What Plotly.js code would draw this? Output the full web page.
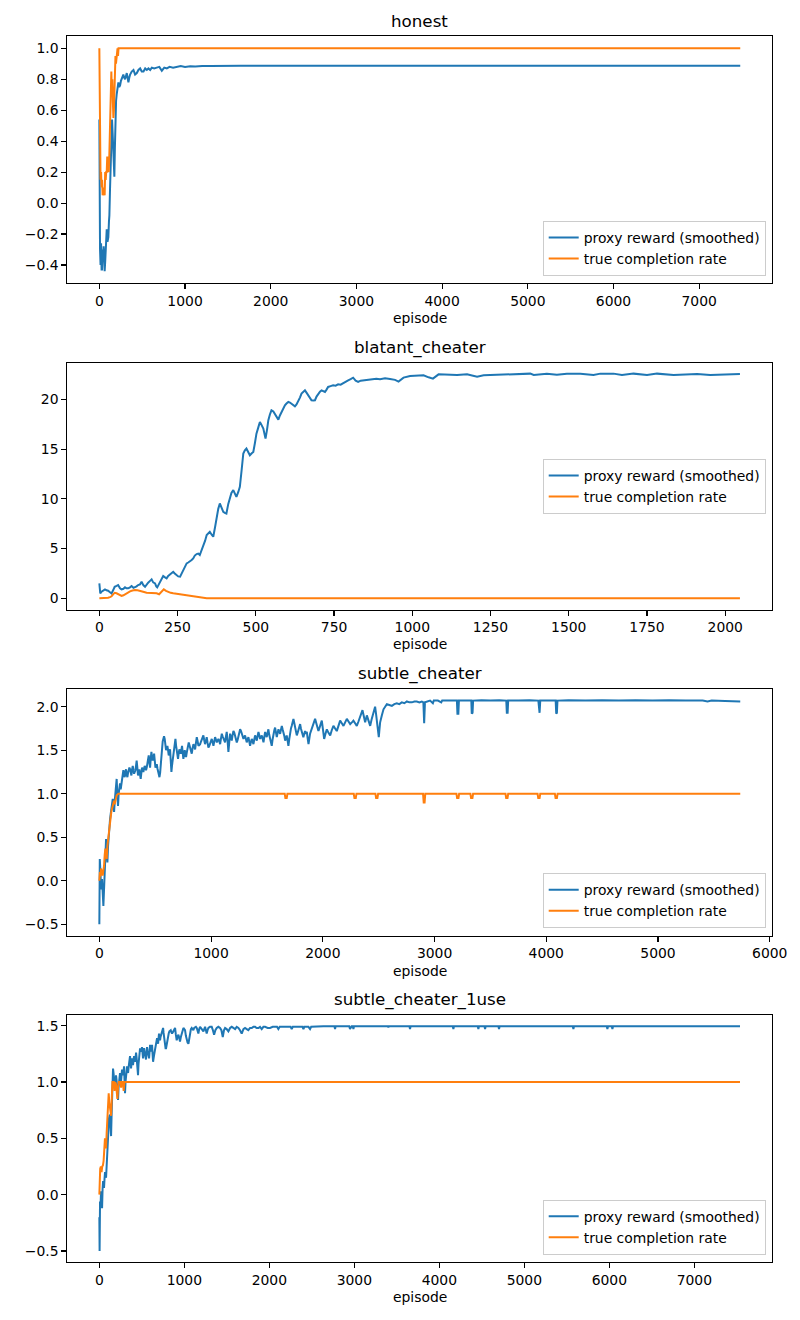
<!DOCTYPE html>
<html>
<head>
<meta charset="utf-8">
<script src="https://cdn.plot.ly/plotly-3.0.1.min.js"></script>
<style>
  html, body { margin: 0; padding: 0; background: #ffffff; }
  #chart { width: 800px; height: 1320px; }
</style>
</head>
<body>
<div id="chart"></div>
<script>
// Run names (one panel each)
const runNames = ['honest', 'blatant_cheater', 'subtle_cheater', 'subtle_cheater_1use'];
const seriesNames = ['proxy reward (smoothed)', 'true completion rate'];

// [episode, value] samples per run
const honestProxy = [[0,0.54],[3,-0.26],[8,-0.3],[14,-0.4],[20,-0.26],[26,-0.43],[31,-0.43],[38,-0.3],[44,-0.36],[50,-0.28],[56,-0.42],[62,-0.44],[68,-0.38],[74,-0.32],[78,-0.3],[86,-0.17],[95,-0.25],[105,-0.22],[112,-0.12],[117,-0.08],[125,0.1],[132,0.24],[140,0.4],[148,0.54],[155,0.45],[163,0.37],[169,0.25],[175,0.17],[181,0.35],[187,0.56],[195,0.66],[202,0.7],[212,0.74],[222,0.78],[232,0.75],[242,0.76],[252,0.79],[261,0.8],[270,0.82],[280,0.83],[290,0.81],[300,0.8],[310,0.82],[320,0.84],[330,0.81],[339,0.78],[349,0.81],[359,0.83],[378,0.85],[398,0.86],[417,0.83],[437,0.84],[456,0.86],[476,0.87],[495,0.85],[515,0.85],[535,0.87],[554,0.86],[573,0.87],[593,0.86],[612,0.875],[640,0.87],[670,0.875],[700,0.88],[729,0.855],[758,0.875],[787,0.87],[820,0.88],[860,0.875],[904,0.88],[950,0.885],[1000,0.88],[1060,0.884],[1120,0.882],[1200,0.886],[1300,0.885],[1400,0.887],[1500,0.886],[1650,0.888],[1800,0.887],[2000,0.888],[2250,0.887],[2500,0.888],[2750,0.888],[3000,0.887],[3250,0.888],[3500,0.888],[3750,0.887],[4000,0.888],[4250,0.888],[4500,0.887],[4750,0.888],[5000,0.888],[5250,0.887],[5500,0.888],[5750,0.888],[6000,0.888],[6250,0.887],[6500,0.888],[6750,0.888],[7000,0.888],[7250,0.887],[7479,0.888]];
const honestTrue = [[0,1.0],[4,0.6],[8,0.2],[14,0.15],[20,0.2],[26,0.1],[32,0.15],[38,0.05],[44,0.1],[50,0.05],[56,0.1],[62,0.05],[68,0.2],[74,0.15],[80,0.2],[86,0.2],[92,0.3],[98,0.25],[104,0.3],[110,0.2],[116,0.3],[122,0.45],[128,0.6],[134,0.75],[140,0.85],[146,0.7],[152,0.8],[158,0.65],[164,0.55],[170,0.6],[176,0.75],[182,0.9],[188,0.95],[194,0.9],[200,0.95],[206,0.95],[212,1.0],[218,0.95],[224,1.0],[7479,1.0]];

const blatantProxy = [[0,1.5],[3,0.5],[7,0.66],[12,0.75],[18,0.9],[23,0.8],[28,0.76],[34,0.6],[39,0.49],[44,0.8],[49,1.16],[55,1.25],[60,1.33],[66,1.0],[71,0.9],[77,0.95],[82,1.1],[87,1.0],[92,1.0],[98,1.1],[103,1.23],[109,1.05],[114,1.1],[119,1.2],[124,1.33],[130,1.4],[135,1.67],[141,1.3],[146,1.16],[151,1.4],[156,1.57],[162,1.75],[167,1.9],[172,1.6],[178,1.5],[182,1.2],[185,1.1],[190,1.4],[194,1.67],[199,1.9],[204,2.24],[210,2.1],[215,2.0],[220,2.25],[226,2.44],[231,2.55],[236,2.67],[241,2.5],[247,2.34],[252,2.2],[258,2.17],[263,2.5],[268,2.84],[274,3.2],[279,3.51],[284,3.6],[289,3.68],[295,3.85],[300,4.01],[305,4.3],[311,4.45],[316,4.5],[321,4.35],[327,4.8],[332,5.18],[338,5.8],[343,6.36],[348,6.5],[353,6.69],[359,6.4],[364,6.19],[370,7.2],[375,8.2],[380,9.0],[385,9.54],[391,9.1],[396,8.7],[401,8.6],[406,8.53],[412,9.5],[417,10.21],[422,10.6],[428,10.88],[433,10.5],[438,10.21],[444,10.7],[449,11.22],[455,13.0],[460,14.57],[465,14.9],[470,15.07],[476,14.7],[481,14.4],[487,14.6],[492,14.73],[497,15.6],[502,16.57],[508,17.2],[513,17.75],[519,17.4],[524,17.08],[528,16.5],[531,16.07],[536,17.0],[540,17.92],[545,18.5],[550,18.92],[556,18.8],[561,18.58],[567,18.2],[572,17.98],[577,18.4],[582,18.75],[588,19.1],[593,19.42],[598,19.6],[604,19.76],[609,19.7],[614,19.59],[620,19.4],[625,19.32],[630,19.5],[635,19.76],[641,20.2],[646,20.6],[652,20.8],[657,20.93],[662,20.7],[668,20.43],[673,20.1],[678,19.93],[684,19.9],[689,19.93],[694,20.3],[699,20.6],[705,20.8],[710,20.93],[716,20.8],[721,20.76],[726,21.0],[731,21.27],[739,21.35],[747,21.43],[755,21.4],[763,21.53],[771,21.5],[779,21.67],[787,21.8],[795,21.94],[803,22.05],[811,22.2],[819,21.9],[827,21.77],[835,21.9],[843,21.94],[853,22.0],[864,22.0],[875,22.05],[885,22.1],[897,22.04],[913,22.14],[929,22.08],[945,21.98],[956,21.81],[972,22.21],[993,22.38],[1015,22.41],[1036,22.44],[1052,22.24],[1066,22.11],[1084,22.54],[1111,22.51],[1143,22.48],[1175,22.54],[1207,22.31],[1228,22.44],[1260,22.48],[1292,22.51],[1324,22.61],[1377,22.61],[1388,22.48],[1430,22.61],[1462,22.51],[1494,22.61],[1537,22.61],[1579,22.48],[1601,22.61],[1643,22.61],[1670,22.48],[1707,22.61],[1750,22.48],[1782,22.61],[1835,22.48],[1867,22.5],[1910,22.58],[1952,22.48],[1995,22.55],[2047,22.58]];
const blatantTrue = [[0,0.0],[20,0.02],[28,0.05],[34,0.12],[39,0.2],[44,0.4],[49,0.55],[55,0.5],[60,0.4],[66,0.3],[71,0.23],[77,0.3],[82,0.4],[90,0.55],[98,0.7],[106,0.78],[114,0.83],[122,0.8],[130,0.7],[140,0.65],[151,0.56],[160,0.55],[167,0.5],[175,0.55],[183,0.5],[191,0.4],[198,0.6],[206,0.9],[213,0.75],[220,0.63],[228,0.55],[236,0.5],[247,0.45],[258,0.4],[268,0.36],[279,0.3],[290,0.27],[300,0.23],[311,0.18],[321,0.13],[330,0.09],[337,0.05],[343,0.0],[2047,0.0]];

const subtleProxy = [[0,-0.5],[4,0.25],[10,0.1],[15,-0.1],[20,-0.05],[24,0.02],[30,-0.15],[36,-0.29],[42,-0.1],[48,0.06],[54,0.3],[60,0.48],[66,0.35],[72,0.21],[78,0.4],[84,0.56],[90,0.62],[96,0.71],[102,0.77],[108,0.82],[114,0.9],[120,0.94],[126,0.86],[132,0.79],[138,0.92],[144,1.05],[150,1.1],[155,1.17],[161,1.0],[167,0.86],[173,1.0],[179,1.09],[185,1.12],[191,1.05],[197,1.1],[203,1.17],[209,1.22],[215,1.27],[221,1.22],[227,1.19],[233,1.25],[239,1.28],[245,1.22],[251,1.19],[257,1.24],[263,1.27],[269,1.3],[275,1.28],[281,1.24],[287,1.21],[293,1.28],[299,1.32],[305,1.27],[311,1.23],[317,1.25],[323,1.27],[329,1.33],[334,1.38],[340,1.3],[346,1.21],[352,1.25],[358,1.28],[364,1.22],[370,1.17],[376,1.24],[382,1.3],[388,1.27],[394,1.25],[400,1.29],[406,1.32],[412,1.3],[418,1.27],[424,1.3],[430,1.34],[436,1.4],[442,1.44],[448,1.36],[454,1.3],[460,1.4],[466,1.48],[472,1.42],[478,1.38],[484,1.42],[490,1.46],[496,1.38],[502,1.3],[508,1.32],[514,1.34],[520,1.29],[526,1.25],[532,1.22],[538,1.19],[544,1.24],[549,1.3],[555,1.42],[561,1.51],[567,1.6],[573,1.65],[579,1.66],[585,1.63],[591,1.56],[597,1.5],[603,1.52],[609,1.55],[615,1.5],[621,1.44],[627,1.48],[633,1.51],[639,1.38],[645,1.25],[651,1.33],[657,1.4],[663,1.48],[669,1.55],[675,1.6],[681,1.63],[687,1.55],[692,1.48],[698,1.44],[704,1.4],[710,1.46],[716,1.51],[722,1.48],[728,1.46],[734,1.5],[740,1.55],[746,1.47],[752,1.4],[758,1.45],[764,1.5],[770,1.46],[776,1.42],[782,1.47],[788,1.51],[794,1.55],[800,1.59],[806,1.56],[812,1.53],[820,1.49],[827,1.46],[834,1.52],[842,1.57],[850,1.54],[857,1.51],[864,1.58],[872,1.65],[880,1.6],[887,1.55],[895,1.56],[902,1.57],[910,1.6],[917,1.63],[924,1.65],[931,1.67],[938,1.62],[946,1.57],[954,1.61],[961,1.65],[968,1.59],[976,1.53],[984,1.55],[991,1.57],[998,1.6],[1006,1.63],[1014,1.59],[1021,1.55],[1028,1.6],[1036,1.65],[1044,1.62],[1051,1.59],[1058,1.61],[1066,1.63],[1074,1.6],[1081,1.57],[1088,1.63],[1096,1.69],[1103,1.66],[1110,1.63],[1118,1.61],[1125,1.59],[1132,1.65],[1140,1.71],[1148,1.6],[1155,1.48],[1162,1.58],[1170,1.69],[1178,1.65],[1185,1.61],[1192,1.67],[1200,1.72],[1208,1.7],[1215,1.67],[1222,1.63],[1230,1.59],[1238,1.62],[1245,1.65],[1252,1.7],[1260,1.74],[1268,1.72],[1275,1.69],[1282,1.66],[1290,1.63],[1297,1.65],[1304,1.67],[1312,1.63],[1319,1.59],[1326,1.62],[1334,1.65],[1342,1.6],[1349,1.55],[1356,1.59],[1364,1.63],[1372,1.6],[1379,1.57],[1386,1.62],[1394,1.67],[1402,1.64],[1409,1.61],[1416,1.66],[1424,1.71],[1432,1.67],[1439,1.63],[1446,1.65],[1454,1.67],[1462,1.63],[1469,1.59],[1476,1.65],[1484,1.71],[1491,1.68],[1498,1.65],[1506,1.7],[1513,1.74],[1520,1.68],[1528,1.63],[1536,1.59],[1543,1.55],[1550,1.62],[1558,1.69],[1566,1.73],[1573,1.76],[1580,1.7],[1588,1.65],[1596,1.7],[1603,1.74],[1610,1.71],[1618,1.69],[1626,1.74],[1633,1.78],[1640,1.74],[1648,1.71],[1656,1.66],[1663,1.61],[1670,1.64],[1677,1.67],[1685,1.61],[1692,1.55],[1700,1.63],[1707,1.71],[1715,1.75],[1722,1.78],[1730,1.82],[1737,1.86],[1745,1.81],[1752,1.76],[1760,1.71],[1767,1.67],[1775,1.7],[1782,1.74],[1790,1.77],[1797,1.8],[1804,1.75],[1811,1.71],[1818,1.68],[1826,1.65],[1834,1.69],[1841,1.72],[1848,1.7],[1857,1.71],[1864,1.64],[1872,1.57],[1886,1.69],[1901,1.74],[1916,1.8],[1931,1.86],[1946,1.79],[1961,1.72],[1976,1.78],[1991,1.84],[2002,1.73],[2012,1.63],[2024,1.69],[2036,1.74],[2051,1.7],[2066,1.67],[2080,1.73],[2095,1.78],[2110,1.75],[2125,1.72],[2140,1.78],[2155,1.84],[2170,1.81],[2185,1.78],[2200,1.82],[2215,1.86],[2230,1.83],[2245,1.8],[2260,1.82],[2274,1.84],[2289,1.81],[2304,1.78],[2319,1.83],[2334,1.88],[2345,1.92],[2355,1.96],[2367,1.89],[2379,1.82],[2394,1.9],[2409,1.84],[2424,1.78],[2436,1.85],[2448,1.92],[2458,1.96],[2468,2.0],[2478,1.9],[2489,1.78],[2495,1.7],[2501,1.65],[2507,1.74],[2513,1.82],[2528,1.9],[2543,1.97],[2558,2.0],[2573,2.03],[2595,2.02],[2618,2.01],[2640,2.03],[2662,2.04],[2685,2.03],[2707,2.05],[2730,2.04],[2752,2.06],[2775,2.05],[2797,2.05],[2820,2.06],[2841,2.06],[2865,2.05],[2886,2.06],[2900,2.05],[2907,1.81],[2914,2.05],[2931,2.06],[2960,2.07],[2985,2.04],[2993,2.07],[3030,2.07],[3060,2.05],[3068,2.07],[3110,2.07],[3150,2.07],[3200,2.07],[3205,1.92],[3213,1.92],[3218,2.07],[3280,2.07],[3329,2.07],[3333,1.92],[3340,1.93],[3345,2.07],[3420,2.075],[3500,2.07],[3580,2.075],[3642,2.07],[3647,1.93],[3654,1.93],[3659,2.07],[3750,2.07],[3850,2.075],[3929,2.07],[3934,1.93],[3940,1.93],[3946,2.07],[4020,2.07],[4084,2.07],[4089,1.92],[4095,1.93],[4100,2.07],[4200,2.075],[4350,2.07],[4500,2.075],[4650,2.07],[4800,2.075],[4950,2.07],[5100,2.075],[5250,2.07],[5400,2.07],[5443,2.06],[5480,2.07],[5600,2.065],[5680,2.06],[5736,2.06]];
const subtleTrue = [[0,0.0],[5,0.1],[10,0.05],[15,0.14],[22,0.1],[30,0.06],[36,0.12],[42,0.17],[48,0.3],[54,0.37],[60,0.3],[66,0.25],[72,0.4],[78,0.48],[84,0.5],[90,0.56],[96,0.65],[102,0.75],[108,0.8],[114,0.83],[120,0.87],[126,0.9],[132,0.92],[137,0.88],[143,0.93],[149,0.96],[155,0.98],[161,0.99],[170,1.0],[1659,1.0],[1665,0.95],[1677,0.95],[1683,1.0],[2277,1.0],[2283,0.95],[2295,0.95],[2301,1.0],[2471,1.0],[2477,0.95],[2489,0.95],[2495,1.0],[2897,1.0],[2903,0.9],[2911,0.9],[2917,1.0],[3196,1.0],[3202,0.95],[3214,0.95],[3220,1.0],[3321,1.0],[3327,0.95],[3339,0.95],[3345,1.0],[3635,1.0],[3641,0.95],[3653,0.95],[3659,1.0],[3922,1.0],[3928,0.95],[3940,0.95],[3946,1.0],[4077,1.0],[4083,0.95],[4095,0.95],[4101,1.0],[5736,1.0]];

const oneUseProxy = [[0,-0.2],[3,-0.5],[8,-0.06],[14,-0.1],[20,0.03],[26,-0.05],[32,-0.12],[38,0.05],[44,0.12],[50,0.08],[55,0.06],[61,0.14],[67,0.2],[73,0.18],[79,0.15],[85,0.25],[91,0.35],[97,0.45],[102,0.56],[108,0.62],[114,0.68],[120,0.7],[126,0.71],[132,0.6],[138,0.52],[144,0.7],[149,0.86],[155,1.0],[161,1.12],[167,1.08],[173,1.03],[179,0.98],[185,0.93],[190,1.0],[196,1.06],[202,1.02],[208,0.97],[214,0.9],[220,0.84],[226,0.95],[232,1.03],[238,1.06],[243,1.08],[249,1.04],[255,1.0],[261,1.06],[267,1.11],[273,1.08],[279,1.06],[285,1.1],[291,1.14],[297,1.0],[302,0.9],[308,1.0],[314,1.09],[320,1.12],[326,1.14],[332,1.11],[338,1.08],[344,1.13],[349,1.18],[355,1.2],[361,1.23],[367,1.17],[373,1.12],[379,1.17],[385,1.21],[391,1.18],[396,1.15],[402,1.19],[408,1.23],[414,1.2],[420,1.18],[426,1.22],[432,1.26],[438,1.22],[444,1.18],[450,1.12],[455,1.06],[461,1.16],[467,1.24],[473,1.27],[479,1.3],[485,1.28],[491,1.27],[497,1.29],[502,1.31],[508,1.26],[514,1.21],[520,1.26],[526,1.3],[532,1.27],[538,1.24],[544,1.22],[549,1.2],[555,1.26],[561,1.31],[567,1.28],[573,1.26],[579,1.23],[585,1.21],[591,1.27],[597,1.33],[603,1.3],[608,1.27],[614,1.3],[620,1.33],[626,1.25],[632,1.18],[638,1.21],[644,1.24],[650,1.27],[655,1.3],[661,1.33],[667,1.36],[673,1.37],[679,1.39],[685,1.36],[691,1.34],[697,1.39],[702,1.43],[708,1.4],[714,1.37],[720,1.4],[726,1.42],[732,1.44],[738,1.46],[744,1.47],[750,1.48],[755,1.44],[761,1.39],[767,1.35],[773,1.31],[779,1.3],[785,1.3],[791,1.33],[797,1.36],[803,1.38],[808,1.4],[816,1.43],[824,1.45],[832,1.46],[840,1.46],[848,1.44],[855,1.43],[863,1.44],[871,1.45],[881,1.47],[891,1.48],[900,1.42],[910,1.37],[920,1.4],[930,1.42],[940,1.39],[949,1.36],[959,1.4],[969,1.43],[979,1.46],[989,1.48],[999,1.47],[1008,1.46],[1018,1.41],[1028,1.37],[1038,1.35],[1048,1.34],[1058,1.4],[1067,1.45],[1077,1.47],[1087,1.48],[1097,1.47],[1106,1.46],[1116,1.48],[1126,1.49],[1136,1.49],[1146,1.48],[1155,1.46],[1165,1.43],[1175,1.47],[1185,1.49],[1205,1.47],[1224,1.45],[1234,1.47],[1244,1.49],[1254,1.46],[1263,1.43],[1273,1.46],[1283,1.48],[1302,1.49],[1322,1.49],[1336,1.46],[1350,1.42],[1365,1.46],[1381,1.48],[1400,1.49],[1420,1.48],[1436,1.46],[1452,1.4],[1466,1.46],[1479,1.48],[1498,1.47],[1518,1.45],[1538,1.48],[1557,1.49],[1577,1.48],[1597,1.47],[1616,1.49],[1636,1.48],[1655,1.46],[1675,1.43],[1695,1.47],[1714,1.48],[1734,1.47],[1753,1.46],[1773,1.48],[1793,1.48],[1812,1.49],[1832,1.49],[1851,1.48],[1871,1.48],[1890,1.49],[1910,1.47],[1930,1.49],[1950,1.49],[1980,1.48],[2008,1.48],[2040,1.49],[2067,1.49],[2090,1.49],[2106,1.47],[2122,1.49],[2165,1.49],[2210,1.49],[2250,1.49],[2263,1.47],[2276,1.49],[2320,1.49],[2361,1.49],[2390,1.49],[2401,1.47],[2412,1.49],[2460,1.49],[2479,1.47],[2492,1.49],[2560,1.495],[2636,1.495],[2700,1.495],[2766,1.495],[2773,1.47],[2780,1.495],[2940,1.495],[2949,1.47],[2968,1.495],[2982,1.495],[2989,1.47],[2996,1.495],[3200,1.495],[3395,1.495],[3400,1.485],[3405,1.495],[3648,1.495],[3655,1.47],[3662,1.495],[3900,1.495],[4158,1.495],[4165,1.47],[4172,1.495],[4452,1.495],[4459,1.47],[4466,1.495],[4531,1.495],[4538,1.47],[4545,1.495],[4695,1.495],[4702,1.47],[4709,1.495],[5000,1.495],[5300,1.495],[5570,1.495],[5577,1.47],[5584,1.495],[5970,1.495],[5977,1.47],[5984,1.495],[6029,1.495],[6036,1.47],[6043,1.495],[6300,1.495],[6700,1.495],[7100,1.495],[7537,1.495]];
const oneUseTrue = [[0,0.0],[3,0.15],[10,0.23],[18,0.25],[26,0.2],[34,0.25],[42,0.26],[50,0.3],[58,0.4],[66,0.5],[73,0.45],[79,0.41],[86,0.55],[94,0.71],[102,0.85],[110,0.9],[117,0.82],[124,0.77],[131,0.73],[138,0.7],[146,0.85],[154,1.0],[170,1.0],[178,0.92],[186,1.0],[196,0.98],[204,0.92],[212,0.85],[220,0.95],[228,1.0],[246,1.0],[256,0.95],[264,1.0],[278,1.0],[286,0.92],[296,1.0],[7537,1.0]];

// Tick values per panel
const xTicks = [
  [0, 1000, 2000, 3000, 4000, 5000, 6000, 7000],
  [0, 250, 500, 750, 1000, 1250, 1500, 1750, 2000],
  [0, 1000, 2000, 3000, 4000, 5000, 6000],
  [0, 1000, 2000, 3000, 4000, 5000, 6000, 7000]
];
const yTicks = [
  [-0.4, -0.2, 0.0, 0.2, 0.4, 0.6, 0.8, 1.0],
  [0, 5, 10, 15, 20],
  [-0.5, 0.0, 0.5, 1.0, 1.5, 2.0],
  [-0.5, 0.0, 0.5, 1.0, 1.5]
];

const runs = [
  { proxy: honestProxy, truth: honestTrue },
  { proxy: blatantProxy, truth: blatantTrue },
  { proxy: subtleProxy, truth: subtleTrue },
  { proxy: oneUseProxy, truth: oneUseTrue }
];

// Panel geometry (paper fractions) and axis limits
const W = 800, H = 1320;
const xDom = [67.3 / W, 772.3 / W];
const panelPx = [[36.3, 283.3], [363.3, 609.5], [689.3, 935.5], [1015, 1262]];
const xRanges = [[-374, 7853], [-102.4, 2150.4], [-286.8, 6022.8], [-377, 7917]];
const yRanges = [[-0.5185, 1.0775], [-1.13, 23.65], [-0.629, 2.2], [-0.598, 1.595]];
const yFormats = ['.1f', 'd', '.1f', '.1f'];
const legendY = [[276 / H, 'bottom'], [486.4 / H, 'middle'], [928.2 / H, 'bottom'], [1254.7 / H, 'bottom']];

const BLUE = '#1f77b4', ORANGE = '#ff7f0e';
const FONT = 'DejaVu Sans, Liberation Sans, sans-serif';

const traces = [];
const layout = {
  width: W, height: H,
  margin: { l: 0, r: 0, t: 0, b: 0 },
  paper_bgcolor: '#ffffff', plot_bgcolor: '#ffffff',
  font: { family: FONT, size: 13.9, color: '#000000' },
  showlegend: true,
  annotations: []
};

runs.forEach((run, i) => {
  const n = i === 0 ? '' : String(i + 1);
  const legendId = 'legend' + n;
  const [topPx, botPx] = panelPx[i];
  const yDom = [1 - botPx / H, 1 - topPx / H];

  traces.push({
    x: run.proxy.map(p => p[0]), y: run.proxy.map(p => p[1]),
    xaxis: 'x' + n, yaxis: 'y' + n, legend: legendId,
    name: seriesNames[0], mode: 'lines',
    line: { color: BLUE, width: 2 }, hoverinfo: 'skip'
  });
  traces.push({
    x: run.truth.map(p => p[0]), y: run.truth.map(p => p[1]),
    xaxis: 'x' + n, yaxis: 'y' + n, legend: legendId,
    name: seriesNames[1], mode: 'lines',
    line: { color: ORANGE, width: 2 }, hoverinfo: 'skip'
  });

  const common = {
    showline: true, mirror: true, linecolor: '#000000', linewidth: 1.1,
    ticks: 'outside', ticklen: 4.9, tickwidth: 1.1, tickcolor: '#000000',
    showgrid: false, zeroline: false, fixedrange: true,
    tickfont: { family: FONT, size: 13.9, color: '#000000' },
    tickmode: 'array'
  };
  layout['xaxis' + n] = Object.assign({}, common, {
    domain: xDom, anchor: 'y' + n, range: xRanges[i],
    tickvals: xTicks[i], ticktext: xTicks[i].map(String)
  });
  layout['yaxis' + n] = Object.assign({}, common, {
    domain: yDom, anchor: 'x' + n, range: yRanges[i],
    tickvals: yTicks[i], tickformat: yFormats[i]
  });

  layout[legendId] = {
    x: 765.7 / W, xanchor: 'right', xref: 'paper',
    y: 1 - legendY[i][0], yanchor: legendY[i][1], yref: 'paper',
    bgcolor: 'rgba(255,255,255,0.8)', bordercolor: '#cccccc', borderwidth: 1,
    font: { family: FONT, size: 13.9, color: '#000000' },
    itemclick: false, itemdoubleclick: false
  };

  // panel title
  layout.annotations.push({
    text: runNames[i], xref: 'paper', yref: 'paper',
    x: (xDom[0] + xDom[1]) / 2, y: yDom[1], xanchor: 'center', yanchor: 'bottom',
    yshift: 3, showarrow: false,
    font: { family: FONT, size: 16.7, color: '#000000' }
  });
  // x-axis label
  layout.annotations.push({
    text: 'episode', xref: 'paper', yref: 'paper',
    x: (xDom[0] + xDom[1]) / 2, y: yDom[0], xanchor: 'center', yanchor: 'top',
    yshift: -25, showarrow: false,
    font: { family: FONT, size: 13.9, color: '#000000' }
  });
});

Plotly.newPlot('chart', traces, layout, { staticPlot: true, displayModeBar: false });
</script>
</body>
</html>
